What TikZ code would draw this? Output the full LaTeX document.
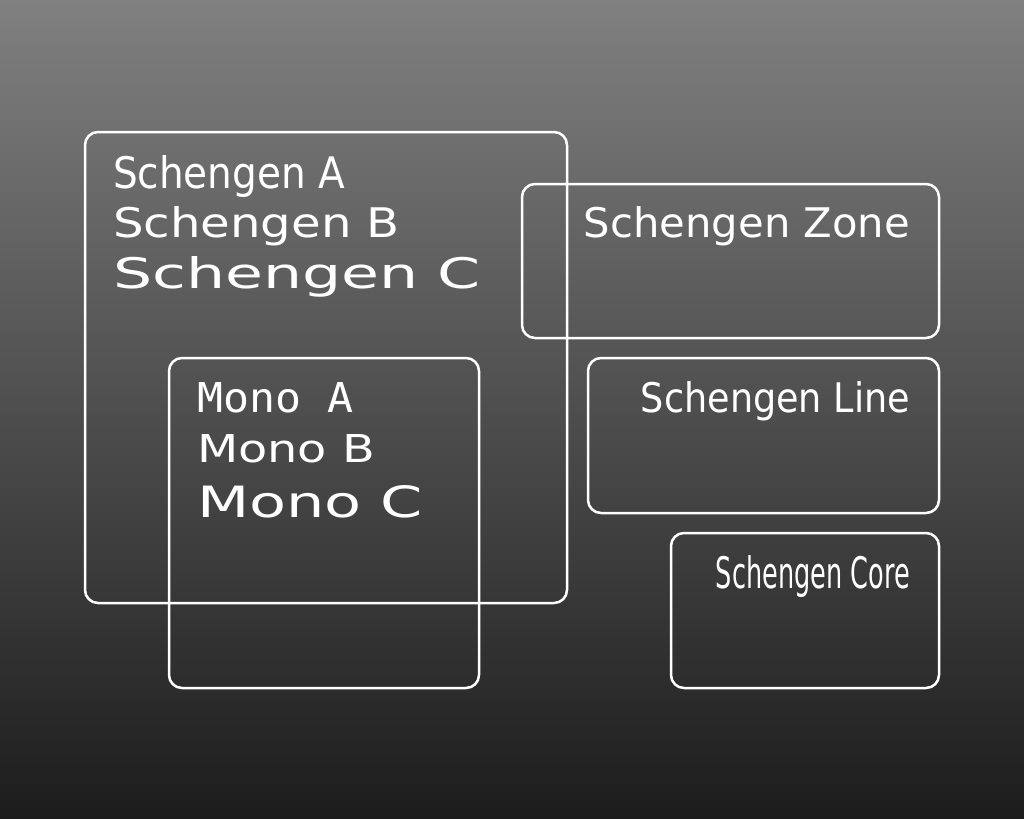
\documentclass[tikz,border=0pt]{standalone}
\usepackage{fontspec}
\setmainfont{DejaVu Sans}
\newfontfamily\monofont{DejaVu Sans Mono}
\usetikzlibrary{positioning}
\definecolor{bgtop}{RGB}{128,128,128}
\definecolor{bgbot}{RGB}{28,28,28}
\tikzstyle{frame}=[draw=white,line width=1.25pt,rounded corners=6.5pt]
\tikzstyle{spec}=[text=white,inner sep=0,outer sep=0]
% width in px, cap height in px
\newcommand{\specimen}[3]{\resizebox{#1\unitpx}{#2\unitpx}{#3}}
\newlength{\unitpx}
\setlength{\unitpx}{0.5pt}

\begin{document}
\begin{tikzpicture}[x=0.5pt,y=-0.5pt]
\shade[top color=bgtop,bottom color=bgbot] (0,0) rectangle (1024,819);
\useasboundingbox (0,0) rectangle (1024,819);
% frames
\draw[frame] (85,132) rectangle (567,603);
\draw[frame] (169,358) rectangle (479,688);
\draw[frame] (522,184) rectangle (939,338);
\draw[frame] (588,358) rectangle (939,513);
\draw[frame] (671,533) rectangle (939,688);
% left stack
\node[spec,anchor=base west] (schA) at (113,188) {\specimen{232}{33}{Schengen A}};
\node[spec,anchor=base west] (schB) at (113,237) {\specimen{287}{31}{Schengen B}};
\node[spec,anchor=base west] (schC) at (113,288) {\specimen{368}{32}{Schengen C}};
\node[spec,anchor=base west] (monoA) at (197,412) {\specimen{156}{30}{\monofont Mono A}};
\node[spec,anchor=base west] (monoB) at (197,462) {\specimen{178}{28}{Mono B}};
\node[spec,anchor=base west] (monoC) at (197,517) {\specimen{226}{32}{Mono C}};
% right stack
\node[spec,anchor=base east] (zone) at (910,237) {\specimen{326}{31}{Schengen Zone}};
\node[spec,anchor=base east] (line) at (910,412) {\specimen{269}{31}{Schengen Line}};
\node[spec,anchor=base east] (core) at (910,588) {\specimen{194}{33}{Schengen Core}};
\end{tikzpicture}
\end{document}
